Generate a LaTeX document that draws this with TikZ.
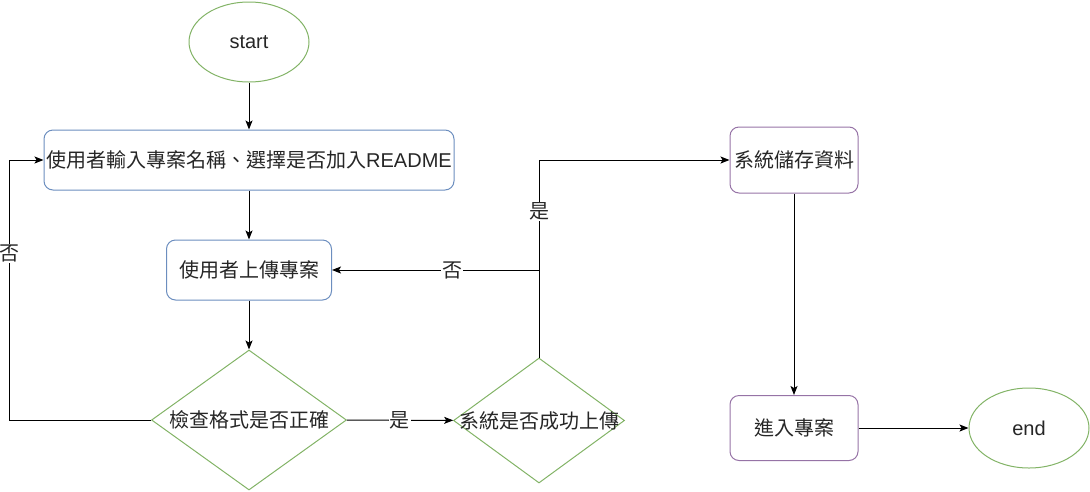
\documentclass[tikz,border=0pt]{standalone}
\usepackage{fontspec}
\setmainfont{Liberation Sans}
\newfontfamily\cjk{Noto Sans CJK TC}
\usetikzlibrary{shapes.geometric,arrows.meta}

\definecolor{boxblue}{HTML}{6C8EBF}
\definecolor{boxgreen}{HTML}{82B366}
\definecolor{boxpurple}{HTML}{9673A6}

\tikzset{
  txt/.style={font={\cjk\fontsize{20}{24}\selectfont}, text=black!85},
  term/.style={txt, ellipse, draw=boxgreen, minimum width=120, minimum height=80},
  proc/.style={txt, draw=boxblue, rounded corners=9, minimum height=60},
  save/.style={txt, draw=boxpurple, rounded corners=9, minimum width=128, minimum height=66},
  dec/.style={diamond, draw=boxgreen, inner sep=0pt},
  lbl/.style={txt, fill=white, inner sep=1pt},
  arr/.style={-{Stealth[length=9pt,width=7pt,inset=2pt]}}
}

\begin{document}
\begin{tikzpicture}[x=1pt,y=-1pt,line width=1pt]
	\useasboundingbox (0,0) rectangle (1090,491);
	\node[term] (start) at (249,42) {\normalfont start};
	\node[proc, minimum width=410, inner xsep=1pt] (name) at (249,160) {使用者輸入專案名稱、選擇是否加入{\normalfont README}};
	\node[proc, minimum width=165] (upload) at (249,270) {使用者上傳專案};
	\node[dec, minimum width=195, minimum height=140, label={[txt]center:檢查格式是否正確}] (check) at (249,420) {};
	\node[dec, minimum width=171, minimum height=125, label={[txt]center:系統是否成功上傳}] (ok) at (539,420.5) {};

	\node[save] (store) at (794,160) {系統儲存資料};
	\node[save, minimum height=65] (enter) at (794,428) {進入專案};
	\node[term] (end) at (1029,428) {\normalfont end};

	\draw[arr] (start) -- (name);
	\draw[arr] (name) -- (upload);
	\draw[arr] (upload) -- (check);
	\draw[arr] (check) -- node[lbl] {是} (ok);
	\draw[arr] (ok.north) |- node[lbl, pos=0.37] {是} (store.west);
	\draw[arr] (ok.north) |- node[lbl, pos=0.71] {否} (upload.east);
	\draw[arr] (check.west) -- ++(-142,0) |- node[lbl, pos=0.32] {否} (name.west);

	\draw[arr] (store) -- (enter);
	\draw[arr] (enter) -- (end);
\end{tikzpicture}
\end{document}
